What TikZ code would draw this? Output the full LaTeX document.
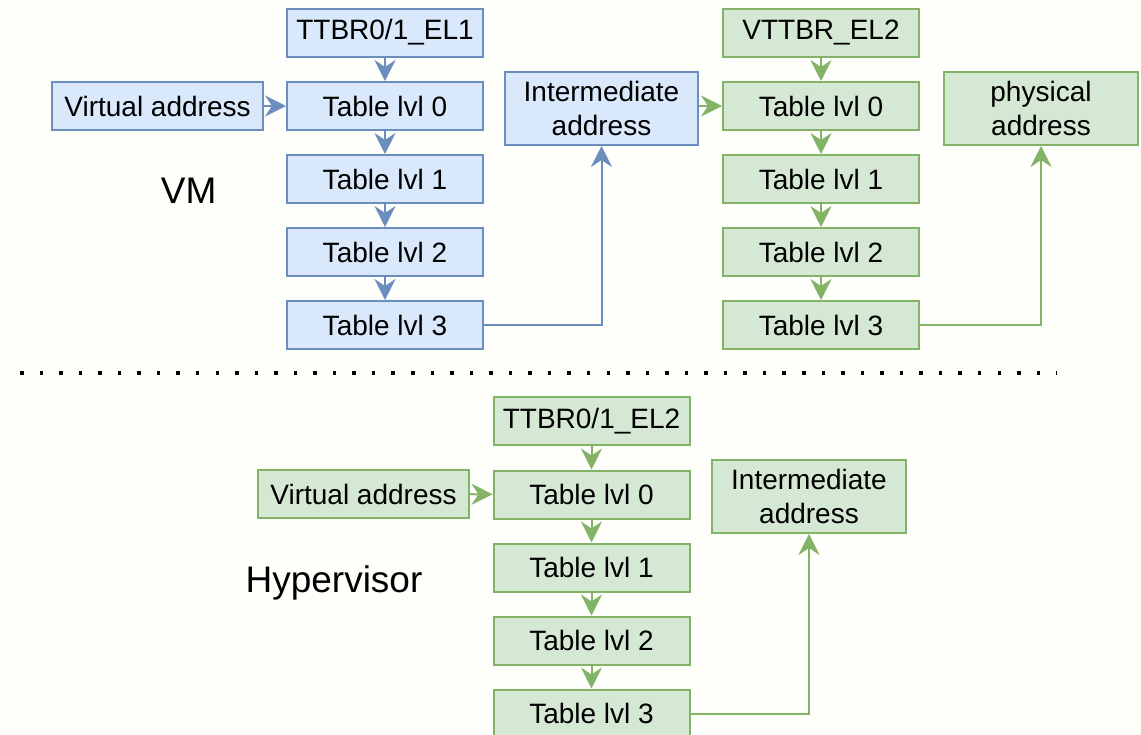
\documentclass[tikz,border=0pt]{standalone}
\usepackage{fontspec}
\setmainfont{Liberation Sans}
\usetikzlibrary{arrows.meta, positioning}
\definecolor{cblue}{HTML}{6C8EBF}
\definecolor{cbluefill}{HTML}{DAE8FC}
\definecolor{cgreen}{HTML}{82B366}
\definecolor{cgreenfill}{HTML}{D5E8D4}
\definecolor{cpaper}{HTML}{FEFEFA}
\tikzset{
  every picture/.style={line width=2pt},
  box/.style={draw=c#1, fill=c#1fill, minimum width=196pt, minimum height=48pt, inner sep=0pt, align=center, font=\fontsize{28}{34}\selectfont},
  box/.default=blue,
  arrow/.style={-{Stealth[length=21pt, width=21pt, inset=7pt]}, draw=c#1},
  arrow/.default=blue,
  title/.style={font=\fontsize{37}{44}\selectfont, anchor=base},
  divider/.style={line width=4.5pt, dash pattern=on 3.5pt off 16.05pt},
}

\begin{document}
\begin{tikzpicture}[x=1pt, y=-1pt]
  \fill[cpaper] (0,0) rectangle (1141,734);
  \useasboundingbox (0,0) rectangle (1141,734);
  % the three table walks, one column each
  \foreach \col/\c/\x/\y/\t in {vm/blue/385/0/{TTBR0/1\_EL1}, s2/green/821/0/{VTTBR\_EL2}, hyp/green/591.5/388.5/{TTBR0/1\_EL2}} {
    \node[box=\c] (\col-ttbr) at (\x,32.5+\y) {\t};
    \foreach \i in {0,...,3} \node[box=\c] (\col-l\i) at (\x,106+73*\i+\y) {Table lvl \i};
    \draw[arrow=\c] (\col-ttbr) -- (\col-l0);
    \foreach \i/\j in {0/1, 1/2, 2/3} \draw[arrow=\c] (\col-l\i) -- (\col-l\j);
  }
  % inputs and outputs
  \node[box, minimum width=211pt] (vm-va) at (157.5,106) {Virtual address};
  \node[box, minimum width=193pt, minimum height=73pt] (vm-ipa) at (601.5,108.5) {Intermediate\\address};
  \node[box=green, minimum width=194pt, minimum height=73pt] (vm-pa) at (1041,108.5) {physical\\address};
  \node[box=green, minimum width=211pt] (hyp-va) at (363.5,494) {Virtual address};
  \node[box=green, minimum width=194pt, minimum height=73pt] (hyp-ipa) at (809,496.5) {Intermediate\\address};
  \draw[arrow] (vm-va) -- (vm-l0);
  \draw[arrow] (vm-l3) -| (vm-ipa);
  \draw[arrow=green] (vm-ipa.east |- s2-l0) -- (s2-l0);
  \draw[arrow=green] (s2-l3) -| (vm-pa);
  \draw[arrow=green] (hyp-va) -- (hyp-l0);
  \draw[arrow=green] (hyp-l3) -| (hyp-ipa);
  % titles and the line between them
  \node[title] (vm-title) at (188.7,203) {VM};
  \node[title] (hyp-title) at (334,592.5) {Hypervisor};
  \coordinate (dots-a) at (20,373);
  \coordinate (dots-b) at (1057,373);
  \draw[divider] (dots-a) -- (dots-b);
\end{tikzpicture}
\end{document}
